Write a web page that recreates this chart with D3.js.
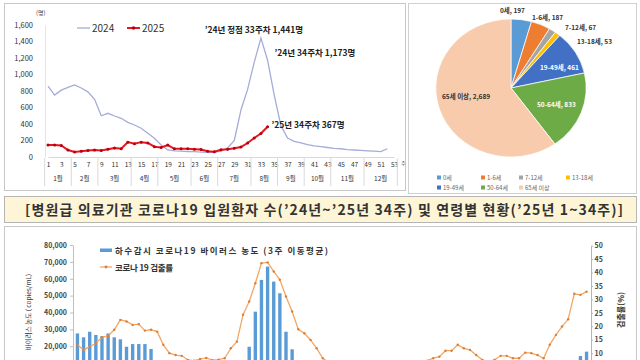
<!DOCTYPE html>
<html><head><meta charset="utf-8">
<script src="https://cdn.jsdelivr.net/npm/d3@7"></script>
<style>body{margin:0;background:#fff}svg{display:block;font-family:"Noto Sans CJK KR","Noto Sans",sans-serif}</style>
</head><body><svg id="c" width="640" height="360"></svg>
<script>
// ---------- DATA ----------
const weeks = d3.range(1, 54);
const monthLabels = ["1월","2월","3월","4월","5월","6월","7월","8월","9월","10월","11월","12월"];
const monthStartWeeks = [1,5,9,14,18,23,27,32,36,40,44,49];
const cases2024 = [860,750,810,845,873,836,790,700,500,530,497,469,420,388,348,287,226,145,85,75,70,65,65,60,55,55,70,110,200,570,820,1150,1441,1173,750,380,230,190,170,150,135,125,115,105,100,90,85,80,75,70,65,100];
const cases2025 = [145,145,140,85,60,70,80,85,80,95,110,100,180,160,180,170,125,115,145,100,100,100,95,90,70,65,88,95,105,120,170,230,285,367];
const yTicksTop = [0,200,400,600,800,1000,1200,1400,1600];

const ageGroups = ["0세","1-6세","7-12세","13-18세","19-49세","50-64세","65세 이상"];
const ageCounts = [197,187,67,53,461,833,2689];

const virusLevels = [27600,25300,28600,26700,26000,27600,25300,24100,19700,21300,21300,21300,18400,10500,9000,8000,7000,6000,5500,5000,5000,5500,6000,6500,7500,8500,9500,11000,19700,40500,59300,67200,58300,51400,28600,18200,10500,9000,7500,6500,5500,5000,4500,4000,3500,3200,3000,2800,2600,2500,2500,2600,2800,3000,3300,3600,4000,4400,4800,5200,5600,6000,6300,6500,6400,6200,5900,5600,5300,5100,5000,5000,5100,5300,5600,6000,6500,7000,7600,8200,8800,10000,14200,16800];
const detectRate = [13.1,11.2,12.4,13.7,15.9,16.4,18.7,22.4,21.8,20.5,20.8,18.4,18.7,18.0,13.1,10.0,9.3,9.0,7.5,7.2,7.8,8.2,7.4,7.6,8.1,11.8,14.3,24.3,29.2,36.0,43.5,43.8,40.4,37.3,31.1,25.5,18.9,17.4,14.9,11.8,8.1,6.5,5.5,5.0,4.5,4.2,4.0,3.8,3.5,3.6,4.0,4.5,5.0,5.5,6.0,6.5,7.0,7.2,8.1,8.7,10.9,10.9,13.1,11.8,11.2,9.3,7.5,6.8,7.5,9.0,9.0,8.1,8.1,10.2,10.0,9.3,8.1,13.1,16.8,19.9,22.6,32.1,31.7,32.9];
const sampleIdx = d3.range(virusLevels.length);
const virusTicks = [0,10000,20000,30000,40000,50000,60000,70000,80000];
const rateTicks = [0,5,10,15,20,25,30,35,40,45,50];

// ---------- STYLE / LAYOUT ----------
const F = '"Noto Sans CJK KR","Noto Sans",sans-serif';
const ageColors = ["#5b9bd5","#ed7d31","#a5a5a5","#ffc000","#4170c4","#6dab46","#f8cbad"];
const svg = d3.select("#c");

// frames
svg.append("rect").attr("x",4.5).attr("y",3.5).attr("width",401).attr("height",187).attr("fill","#fff").attr("stroke","#c8c8c8");
svg.append("rect").attr("x",408.5).attr("y",3.5).attr("width",228).attr("height",190).attr("fill","#fff").attr("stroke","#d0d0d0");
svg.append("rect").attr("x",4.5).attr("y",196.5).attr("width",632).attr("height",26).attr("fill","#fdf5d6").attr("stroke","#b5b5b5");
svg.append("rect").attr("x",4.5).attr("y",226.5).attr("width",632).attr("height",150).attr("fill","#fff").attr("stroke","#c8c8c8");

// ---------- TOP-LEFT LINE CHART ----------
const xT = d3.scalePoint().domain(weeks).range([48,394]);
const yT = d3.scaleLinear().domain([0,1600]).range([157,25]);
const step = xT.step();
const gT = svg.append("g");

gT.append("g").attr("transform","translate(45,0)")
  .call(d3.axisLeft(yT).tickValues(yTicksTop).tickFormat(d3.format(",")).tickSize(0).tickPadding(12))
  .call(g=>g.select(".domain").attr("stroke","#e4e4e4"))
  .selectAll("text").attr("font-size",7.5).attr("fill","#333").attr("font-family",F);

gT.append("g").attr("transform","translate(0,157)")
  .call(d3.axisBottom(xT).tickValues(weeks.filter(w=>w%2===1)).tickSize(0).tickPadding(5))
  .call(g=>g.select(".domain").attr("stroke","#d9d9d9"))
  .selectAll("text").attr("font-size",6.5).attr("fill","#333").attr("font-family",F);

gT.append("text").attr("x",36).attr("y",15).attr("font-size",6).attr("fill","#444").text("(명)");
gT.append("text").attr("x",401).attr("y",165).attr("font-size",5).attr("fill","#444").text("주");

// month separators + labels
const monthEnds = monthStartWeeks.map((s,i)=> i<monthStartWeeks.length-1 ? monthStartWeeks[i+1]-1 : 53);
const bounds = monthStartWeeks.map(s=>xT(s)-step/2).concat([xT(53)+step/2]);
gT.selectAll("line.msep").data(bounds).join("line").attr("class","msep")
  .attr("x1",d=>d).attr("x2",d=>d).attr("y1",158).attr("y2",186).attr("stroke","#d9d9d9");
gT.selectAll("text.mlab").data(monthLabels).join("text").attr("class","mlab")
  .attr("x",(d,i)=>(xT(monthStartWeeks[i])+xT(monthEnds[i]))/2).attr("y",181)
  .attr("text-anchor","middle").attr("font-size",6.5).attr("fill","#333").text(d=>d);

const lineT = d3.line().x((d,i)=>xT(weeks[i])).y(d=>yT(d));
gT.append("path").datum(cases2024).attr("d",lineT).attr("fill","none").attr("stroke","#a4acd8").attr("stroke-width",1.3);
gT.append("path").datum(cases2025).attr("d",lineT).attr("fill","none").attr("stroke","#e3171e").attr("stroke-width",2);
gT.selectAll("circle.p25").data(cases2025).join("circle").attr("class","p25")
  .attr("cx",(d,i)=>xT(weeks[i])).attr("cy",d=>yT(d)).attr("r",1.5).attr("fill","#b80010");

// legend
gT.append("line").attr("x1",77).attr("x2",90).attr("y1",28).attr("y2",28).attr("stroke","#a4acd8").attr("stroke-width",1.3);
gT.append("text").attr("x",92).attr("y",31.5).attr("font-size",10).attr("fill","#333").text("2024");
gT.append("line").attr("x1",127).attr("x2",140).attr("y1",28).attr("y2",28).attr("stroke","#e3171e").attr("stroke-width",2);
gT.append("circle").attr("cx",133.5).attr("cy",28).attr("r",1.8).attr("fill","#b80010");
gT.append("text").attr("x",142).attr("y",31.5).attr("font-size",10).attr("fill","#333").text("2025");

// annotations
const ann = gT.append("g").attr("font-size",8.5).attr("font-weight","bold").attr("fill","#222");
ann.append("text").attr("x",xT(33)-7).attr("y",yT(cases2024[32])-5).attr("text-anchor","middle")
  .text("’24년 정점 33주차 "+d3.format(",")(cases2024[32])+"명");
ann.append("text").attr("x",xT(34)+7).attr("y",yT(cases2024[33])-4)
  .text("’24년 34주차 "+d3.format(",")(cases2024[33])+"명");
ann.append("text").attr("x",xT(34)+4).attr("y",yT(cases2025[33])+1)
  .text("’25년 34주차 "+d3.format(",")(cases2025[33])+"명");

// ---------- PIE ----------
const pieData = d3.pie().sort(null).value(d=>d)(ageCounts);
const arc = d3.arc().innerRadius(0).outerRadius(69);
svg.append("g").attr("transform","translate(511,88) scale(1.09,1)")
  .selectAll("path").data(pieData).join("path").attr("d",arc)
  .attr("fill",(d,i)=>ageColors[i]).attr("stroke","#fff").attr("stroke-width",0.7);

const pieLabelLayout = [[500,13,"#333"],[532,20,"#333"],[565,30,"#333"],[577,44,"#333"],[540,70,"#fff"],[537,107,"#fff"],[442,99,"#333"]];
svg.append("g").attr("font-size",6.5).attr("font-weight","bold")
  .selectAll("text").data(ageGroups).join("text")
  .attr("x",(d,i)=>pieLabelLayout[i][0]).attr("y",(d,i)=>pieLabelLayout[i][1])
  .attr("fill",(d,i)=>pieLabelLayout[i][2])
  .text((d,i)=>d+", "+d3.format(",")(ageCounts[i]));

const legPos = [[437,178],[481,178],[519,178],[566,178],[437,188],[481,188],[519,188]];
const gL = svg.append("g").selectAll("g").data(ageGroups).join("g")
  .attr("transform",(d,i)=>`translate(${legPos[i][0]},${legPos[i][1]})`);
gL.append("rect").attr("x",0).attr("y",-2.5).attr("width",4).attr("height",4).attr("fill",(d,i)=>ageColors[i]);
gL.append("text").attr("x",6).attr("y",2).attr("font-size",6).attr("fill","#666").text(d=>d);

// ---------- TITLE BAR ----------
svg.append("text").attr("x",25).attr("y",214.5).attr("font-size",14).attr("font-weight","bold")
  .attr("fill","#333").attr("textLength",598).attr("lengthAdjust","spacing")
  .text("[병원급 의료기관 코로나19 입원환자 수(’24년~’25년 34주) 및 연령별 현황(’25년 1~34주)]");

// ---------- BOTTOM BAR + LINE CHART ----------
const xB = d3.scaleBand().domain(sampleIdx).range([73,591]).padding(0.45);
const yL = d3.scaleLinear().domain([0,80000]).range([380,245]);
const yR = d3.scaleLinear().domain([0,50]).range([380,245.7]);
const gB = svg.append("g");

gB.selectAll("rect.bar").data(virusLevels).join("rect").attr("class","bar")
  .attr("x",(d,i)=>xB(sampleIdx[i])).attr("width",xB.bandwidth())
  .attr("y",d=>yL(d)).attr("height",d=>yL(0)-yL(d)).attr("fill","#5b9bd5");

const cx = i=>xB(sampleIdx[i])+xB.bandwidth()/2;
gB.append("path").datum(detectRate).attr("d",d3.line().x((d,i)=>cx(i)).y(d=>yR(d)))
  .attr("fill","none").attr("stroke","#f2a766").attr("stroke-width",1.3);
gB.selectAll("circle.pr").data(detectRate).join("circle").attr("class","pr")
  .attr("cx",(d,i)=>cx(i)).attr("cy",d=>yR(d)).attr("r",1.2).attr("fill","#d9803a");

gB.append("g").attr("transform","translate(73,0)")
  .call(d3.axisLeft(yL).tickValues(virusTicks).tickFormat(d3.format(",")).tickSize(3).tickPadding(3).tickSizeOuter(0))
  .call(g=>g.selectAll(".domain,line").attr("stroke","#bfbfbf"))
  .selectAll("text").attr("font-size",7).attr("font-weight","bold").attr("fill","#444").attr("font-family",F);
gB.append("g").attr("transform","translate(591,0)")
  .call(d3.axisRight(yR).tickValues(rateTicks).tickSize(2).tickPadding(1.5).tickSizeOuter(0))
  .call(g=>g.selectAll(".domain,line").attr("stroke","#9fb9d8"))
  .selectAll("text").attr("font-size",7).attr("font-weight","bold").attr("fill","#444").attr("font-family",F);

gB.append("text").attr("transform","translate(31,312) rotate(-90)").attr("text-anchor","middle")
  .attr("font-size",6.5).attr("fill","#333").text("바이러스 농도 ( copies/mL)");
gB.append("text").attr("transform","translate(624,310) rotate(-90)").attr("text-anchor","middle")
  .attr("font-size",8).attr("font-weight","bold").attr("fill","#333").text("검출률(%)");

// legend
gB.append("rect").attr("x",100).attr("y",248.5).attr("width",12).attr("height",3.5).attr("fill","#5b9bd5");
gB.append("text").attr("x",115).attr("y",253.5).attr("font-size",8.5).attr("font-weight","bold").attr("fill","#333")
  .attr("textLength",213).attr("lengthAdjust","spacing").text("하수감시 코로나19 바이러스 농도 (3주 이동평균)");
gB.append("line").attr("x1",100).attr("x2",112).attr("y1",267).attr("y2",267).attr("stroke","#f2a766").attr("stroke-width",1.3);
gB.append("circle").attr("cx",106).attr("cy",267).attr("r",1.4).attr("fill","#d9803a");
gB.append("text").attr("x",115).attr("y",270.5).attr("font-size",8.5).attr("font-weight","bold").attr("fill","#333")
  .attr("textLength",58).attr("lengthAdjust","spacing").text("코로나 19 검출률");
</script></body></html>
